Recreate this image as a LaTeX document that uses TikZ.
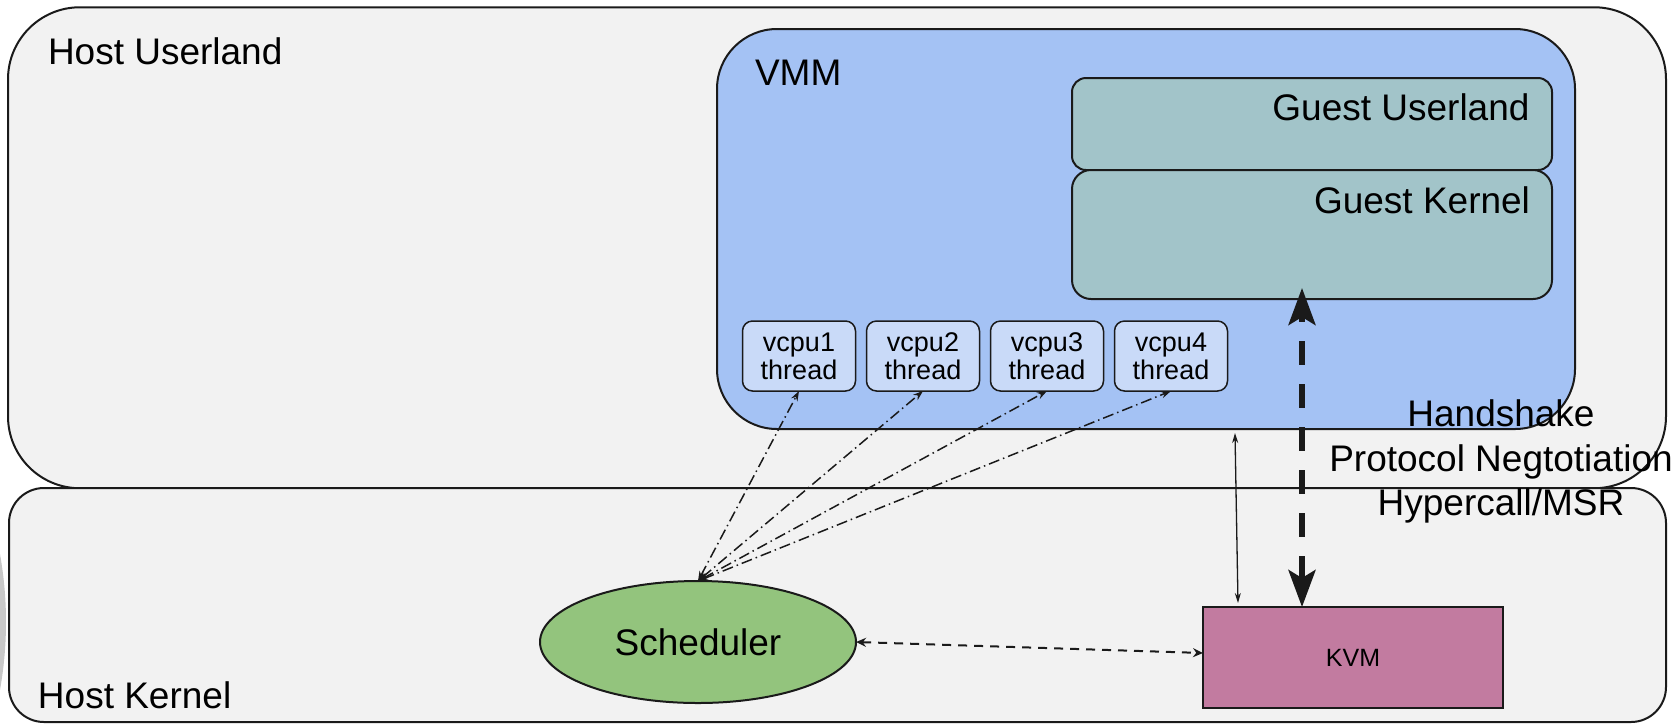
\documentclass[tikz,border=0pt]{standalone}
\usepackage{fontspec}
\setmainfont{Liberation Sans}
\usetikzlibrary{shapes.geometric, arrows.meta}

\definecolor{edge}{HTML}{1A1A1A}
\definecolor{hostfill}{HTML}{F2F2F2}
\definecolor{vmmfill}{HTML}{A4C2F4}
\definecolor{guestfill}{HTML}{A2C4C9}
\definecolor{vcpufill}{HTML}{C9DAF8}
\definecolor{schedfill}{HTML}{93C47D}
\definecolor{kvmfill}{HTML}{C27BA0}
\definecolor{ghost}{HTML}{C8C8C8}

\begin{document}
\begin{tikzpicture}[x=0.5pt, y=-0.5pt,
  every node/.style={inner sep=0pt, outer sep=0pt},
  region/.style={rectangle, draw=edge, line width=1pt},
  bigtext/.style={font=\fontsize{18.5}{22.25}\selectfont, text=black},
  vcpubox/.style={region, fill=vcpufill, rounded corners=5pt, line width=0.75pt,
    minimum width=56.5pt, minimum height=35pt, align=center,
    font=\fontsize{13.5}{14}\selectfont},
  schedlink/.style={draw=edge, line width=0.75pt,
    dash pattern=on 5.5pt off 2pt on 0.75pt off 2pt,
    {Stealth[length=5pt,width=3.5pt]}-{Stealth[length=5pt,width=3.5pt]}},
  kvmlink/.style={draw=edge, line width=1pt, dash pattern=on 4.5pt off 3.5pt,
    {Stealth[length=5pt,width=4.5pt]}-{Stealth[length=5pt,width=4.5pt]}},
  ctllink/.style={draw=edge, line width=0.65pt,
    {Stealth[length=5pt,width=3pt]}-{Stealth[length=5pt,width=3pt]}},
  hclink/.style={draw=edge, line width=2.75pt, dash pattern=on 12pt off 9.5pt,
    {Stealth[length=18.5pt,width=13.5pt,inset=4pt]}-{Stealth[length=18.5pt,width=13.5pt,inset=4pt]}}
]
\useasboundingbox (0,0) rectangle (1677,725);

% faint shape cut by the left edge
\begin{scope}
  \clip (0,0) rectangle (1677,725);
  \fill[ghost] (-377,622) circle[radius=191.5pt];
\end{scope}

% host layers
\node[region, fill=hostfill, rounded corners=36pt,
      minimum width=829pt, minimum height=240.5pt] (hu) at (837,247.75) {};
\node[region, fill=hostfill, rounded corners=17.5pt,
      minimum width=828.5pt, minimum height=117pt] (hk) at (837.5,605) {};

% VMM with the guest inside
\node[region, fill=vmmfill, rounded corners=30pt,
      minimum width=429pt, minimum height=200pt] (vmm) at (1146,229) {};
\node[region, fill=guestfill, rounded corners=7pt,
      minimum width=240pt, minimum height=46pt] (gu) at (1312,124) {};
\node[region, fill=guestfill, rounded corners=9.5pt,
      minimum width=240pt, minimum height=64.5pt] (gk) at (1312,234.5) {};

% vcpu threads
\node[vcpubox] (v1) at (799,356) {vcpu1\\thread};
\node[vcpubox] (v2) at (923,356) {vcpu2\\thread};
\node[vcpubox] (v3) at (1047,356) {vcpu3\\thread};
\node[vcpubox] (v4) at (1171,356) {vcpu4\\thread};

% host kernel components
\node[ellipse, draw=edge, line width=1pt, fill=schedfill,
      minimum width=158pt, minimum height=61pt, bigtext] (sched) at (698,642) {Scheduler};
\node[region, fill=kvmfill, minimum width=150pt, minimum height=50.5pt,
      font=\fontsize{12.5}{15}\selectfont] (kvm) at (1353,657.5) {KVM};

% layer titles
\node[bigtext, anchor=base west] (hul) at (48,64) {Host Userland};
\node[bigtext, anchor=base west] (hkl) at (38,708) {Host Kernel};
\node[bigtext, anchor=base west] (vmml) at (755,85.5) {VMM};
\node[bigtext, anchor=base east] (gul) at (1529.5,120) {Guest Userland};
\node[bigtext, anchor=base east] (gkl) at (1530,213) {Guest Kernel};

% scheduler to vcpu threads
\foreach \v in {v1,v2,v3,v4}
  \draw[schedlink] (sched.north) -- (\v.south);

% scheduler to KVM
\draw[kvmlink] (sched.east) -- ([yshift=2.25pt]kvm.west);

% VMM to KVM
\draw[ctllink] ([xshift=44.5pt,yshift=-2pt]vmm.south) -- ([xshift=-57.5pt,yshift=2pt]kvm.north);

% guest kernel to KVM
\draw[hclink] ([xshift=-25.5pt]kvm.north) -- ([xshift=-5pt,yshift=5.5pt]gk.south);

% link label
\node[bigtext, anchor=base] (hs1) at (1501,426) {Handshake};
\node[bigtext, anchor=base] (hs2) at (1501,471) {Protocol Negtotiation};
\node[bigtext, anchor=base] (hs3) at (1501,515) {Hypercall/MSR};
\end{tikzpicture}
\end{document}
